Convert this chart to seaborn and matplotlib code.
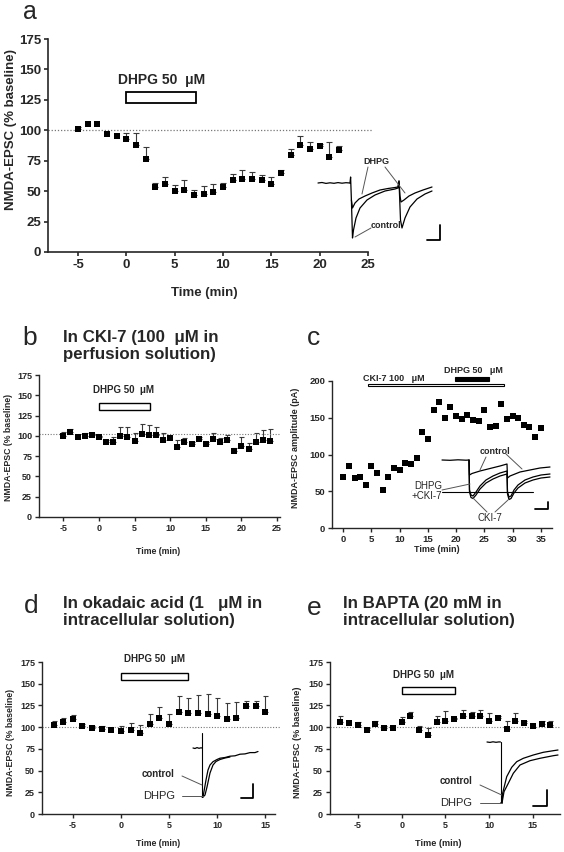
import numpy as np
import matplotlib
matplotlib.use("Agg")
from matplotlib import pyplot as plt
from matplotlib.patches import Rectangle
import seaborn as sns

# ---- data ----
# a: DHPG alone (% baseline), upper end of error bar in *_top
a_time = np.arange(-5, 23)
a_val = [101, 105, 105, 97, 95, 93, 88, 76, 53, 56, 50, 51, 47, 48, 49, 53, 59, 60,
         60, 59, 56, 65, 80, 88, 85, 87, 78, 84]
a_top = [103, 105, 105, 97, 95, 98, 98, 86, 57, 62, 55, 59, 51, 54, 56, 57, 64, 67,
         66, 63, 62, 67, 85, 95, 90, 89, 90, 87]

# b: in CKI-7
b_time = np.arange(-5, 25)
b_val = [100, 105, 98, 100, 101, 98, 92, 92, 100, 98, 94, 102, 101, 101, 95, 97, 86, 93,
         90, 96, 90, 96, 93, 95, 81, 88, 84, 92, 95, 94]
b_top = [105, 109, 98, 103, 102, 100, 95, 99, 111, 111, 103, 115, 113, 111, 104, 97, 95, 97,
         93, 98, 93, 104, 97, 101, 85, 99, 91, 103, 107, 108]

# c: single cell, amplitude (pA)
c_time = np.arange(0, 36)
c_val = [69, 85, 68, 69, 58, 85, 75, 52, 69, 82, 79, 89, 87, 95, 130, 121, 160, 171,
         150, 164, 152, 148, 154, 147, 145, 160, 138, 139, 169, 148, 152, 150, 140, 138, 124, 136]

# d: okadaic acid
d_time = np.arange(-7, 16)
d_val = [102, 106, 109, 101, 99, 98, 97, 95.5, 97, 93.5, 103.5, 110, 103.5, 117, 116, 116,
         115, 113, 109.5, 111, 124.5, 124, 118]
d_top = [106.5, 110, 114, 104, 101, 101.5, 97, 101.5, 104.5, 102, 115.5, 123.5, 115, 135.5,
         134, 137.5, 138.5, 134, 127.5, 129, 130, 130, 136]

# e: BAPTA
e_time = np.arange(-7, 18)
e_val = [106, 105.3, 102.7, 97, 104, 98.5, 98.5, 105.7, 113, 96.6, 91.3, 106, 107.6, 109,
         113.3, 113, 113, 107, 110, 97.7, 107, 104.5, 101.5, 103.8, 102.7]
e_top = [113.3, 105.3, 105.7, 99, 107.6, 101.5, 98.5, 111.8, 117.5, 101.5, 99, 113.3, 119, 111,
         119.4, 118, 120, 116, 113.3, 107.6, 116, 107.6, 101.5, 106.5, 107.6]

# drug application bars (start, end, low, high)
a_dhpg = [0, 7.2, 122.6, 131.4]
b_dhpg = [0, 7.2, 132, 141]
c_cki = [4.4, 28.5, 193, 196.5]
c_dhpg = [19.8, 25.9, 200, 206]
d_dhpg = [0, 7, 154.7, 162.3]
e_dhpg = [0, 6.1, 137.6, 146.4]

# example traces (inset units)
a_base_x = [3, 7, 11, 15, 19, 23, 27, 31, 35]
a_base_y = [33, 32.5, 33.4, 32.8, 33.3, 32.6, 33.2, 32.7, 33]
a_dhpg_x = [35, 35.6, 36.4, 37.5, 40, 44, 50, 57, 65, 73, 80, 83, 84, 85, 86, 89, 94, 100, 108, 117]
a_dhpg_y = [33, 27, 50, 58, 53, 49, 46, 43, 40, 38.5, 37.5, 37, 31, 46, 52, 50, 46, 43, 40, 37]
a_ctrl_x = [36.4, 37.5, 38.5, 41, 45, 52, 60, 70, 80, 83, 84, 85.5, 87, 90, 95, 102, 110, 117]
a_ctrl_y = [50, 88, 80, 68, 58, 50, 45, 41, 39, 38, 31, 70, 78, 68, 57, 49, 44, 41]

c_ctrl_x = [42, 50, 58, 66, 69, 69.5, 72, 80, 90, 100, 107, 107.5, 110, 120, 130, 140, 150]
c_ctrl_y = [20, 20.3, 19.8, 20.2, 20, 35, 33.5, 31, 28.5, 26, 24, 38, 36, 32, 30, 28, 27]
c_cki_x = [69, 69.5, 71, 73, 76, 80, 86, 93, 100, 107, 107.5, 109, 111, 114, 118, 125, 133, 141, 150]
c_cki_y = [20, 50, 55, 56, 52, 46, 40, 36, 33, 31, 52, 57, 56, 50, 45, 40, 37, 35, 34]
c_dc_y = [20, 52, 57.5, 58.5, 55, 49, 43, 39, 36, 34, 54, 59.5, 58.5, 53, 48, 43, 40, 38, 37]

d_base_x = [53, 55, 57, 59, 61, 62]
d_base_y = [23, 23.5, 22.6, 23.3, 22.8, 23]
d_ctrl_x = [62, 63, 66, 68, 70, 73, 77, 80, 85, 90, 95, 100, 105, 110, 115, 118]
d_ctrl_y = [72, 72, 55, 45, 40, 36.7, 34.5, 33.2, 32.5, 31.2, 30.8, 29.2, 28.9, 27.6, 27.6, 26.5]
d_dhpg_x = [63, 65, 67, 70, 73, 76, 80, 85, 90]
d_dhpg_y = [72, 70, 62, 48, 40, 36.5, 34.5, 33, 32]

e_base_x = [57, 60, 63, 66, 69, 70.5]
e_base_y = [12, 12.4, 11.8, 12.3, 11.9, 12]
e_ctrl_x = [70.5, 72, 72.7, 76.7, 81.7, 86.7, 93.3, 103.3, 113.3, 123.3, 128]
e_ctrl_y = [73, 73, 63, 46.7, 37.3, 31.7, 28.3, 25, 22.3, 20.7, 20]
e_dhpg_x = [72, 74, 78.3, 83.3, 90, 100, 110, 123.3, 128]
e_dhpg_y = [73, 61.7, 53.3, 43.3, 35, 30.7, 28.3, 25.7, 25]

W, H = 564, 852

sns.set_style("ticks")
plt.rcParams["font.family"] = ["Liberation Sans", "DejaVu Sans"]
plt.rcParams["axes.unicode_minus"] = False

fig = plt.figure(figsize=(W / 100, H / 100), dpi=100)


def box(l, t, r, b):
    return [l / W, 1 - b / H, (r - l) / W, (b - t) / H]


def series(ax, t, val, top, msize, cap):
    val = np.asarray(val, float)
    t = np.asarray(t, float)
    if top is not None:
        top = np.asarray(top, float)
        m = top > val
        ax.errorbar(t[m], val[m], yerr=[np.zeros(m.sum()), (top - val)[m]], fmt="none",
                    ecolor="#3a3a3a", elinewidth=0.8, capsize=cap, capthick=0.8, zorder=2)
    sns.scatterplot(x=t, y=val, marker="s", color="black", s=msize, linewidth=0,
                    ax=ax, zorder=3, legend=False)


def style(ax, xlim, ylim, xticks, yticks, fs, lw=1.0):
    ax.set_xlim(xlim)
    ax.set_ylim(ylim)
    ax.set_xticks(xticks)
    ax.set_yticks(yticks)
    sns.despine(ax=ax)
    for s in ("left", "bottom"):
        ax.spines[s].set_linewidth(lw)
    ax.tick_params(length=3, width=lw, labelsize=fs, pad=2)
    for lab in ax.get_xticklabels() + ax.get_yticklabels():
        lab.set_fontweight("bold")
    ax.patch.set_alpha(0)


def labels(ax, xl, yl, xpos, ypos, fs):
    ax.set_xlabel(xl, fontsize=fs, fontweight="bold")
    ax.set_ylabel(yl, fontsize=fs, fontweight="bold")
    ax.xaxis.label.set_va("center")
    ax.yaxis.label.set_va("center")
    inv = ax.transAxes.inverted()
    px = inv.transform((xpos[0], H - xpos[1]))
    py = inv.transform((ypos[0], H - ypos[1]))
    ax.xaxis.set_label_coords(px[0], px[1])
    ax.yaxis.set_label_coords(py[0], py[1])


def drug_bar(ax, spec, fill, lw):
    ax.add_patch(Rectangle((spec[0], spec[2]), spec[1] - spec[0], spec[3] - spec[2],
                           facecolor="black" if fill else "white", edgecolor="black",
                           lw=lw, clip_on=False, zorder=4))


def inset(l, t, r, b):
    ax = fig.add_axes(box(l, t, r, b))
    ax.set_xlim(0, r - l)
    ax.set_ylim(b - t, 0)
    ax.axis("off")
    return ax


def pointer(ax, p0, p1):
    ax.plot([p0[0], p1[0]], [p0[1], p1[1]], color="#555555", lw=0.7)


def scalebar(ax, x0, x1, y0, y1):
    ax.plot([x0, x1, x1], [y1, y1, y0], color="black", lw=1.3)


ylab = "NMDA-EPSC (% baseline)"

# ---------- a ----------
ax = fig.add_axes(box(48, 39, 368, 252))
series(ax, a_time, a_val, a_top, 25, 2.5)
style(ax, (-8.1, 25), (0, 175), range(-5, 26, 5), range(0, 176, 25), 9.5, 1.2)
ax.axhline(100, xmin=0, xmax=1.015, color="#777777", ls=(0, (1, 1.5)), lw=0.9, clip_on=False)
drug_bar(ax, a_dhpg, False, 1.3)
ax.text(3.6, 141, "DHPG 50  \u03bcM", ha="center", va="center", fontsize=10, fontweight="bold")
labels(ax, "Time (min)", ylab, (204, 293), (11, 130), 9.5)
fig.text(30 / W, 1 - 19 / H, "a", fontsize=18, ha="center", va="baseline")

ia = inset(315, 150, 445, 245)
ia.plot(a_base_x, a_base_y, color="black", lw=0.9)
ia.plot(a_dhpg_x, a_dhpg_y, color="black", lw=0.9)
ia.plot(a_ctrl_x, a_ctrl_y, color="black", lw=0.9)
ia.text(48, 12, "DHPG", fontsize=6.5, fontweight="bold", va="center")
pointer(ia, (53, 17), (47, 44))
pointer(ia, (70, 17), (90, 43))
ia.text(56, 76, "control", fontsize=6.5, fontweight="bold", va="center")
pointer(ia, (56, 78), (40, 87))
scalebar(ia, 112, 125, 75, 90)

# ---------- b ----------
ax = fig.add_axes(box(39, 375, 280, 517))
series(ax, b_time, b_val, b_top, 14, 1.8)
style(ax, (-8.4, 25.4), (0, 175), range(-5, 26, 5), range(0, 176, 25), 6.5)
ax.axhline(102, xmin=0, xmax=1.0, color="#777777", ls=(0, (1, 1.5)), lw=0.8)
drug_bar(ax, b_dhpg, False, 1.0)
ax.text(3.5, 156, "DHPG 50  \u03bcM", ha="center", va="center", fontsize=7, fontweight="bold")
labels(ax, "Time (min)", ylab, (158, 552), (9, 447), 6.3)
fig.text(30 / W, 1 - 345 / H, "b", fontsize=19, ha="center", va="baseline")
fig.text(63 / W, 1 - 330 / H, "In CKI-7 (100  \u03bcM in\nperfusion solution)", fontsize=12.2,
         fontweight="bold", va="top", linespacing=1.2)

# ---------- c ----------
ax = fig.add_axes(box(332, 381, 552, 528))
series(ax, c_time, c_val, None, 14, 0)
style(ax, (-2, 37), (0, 200), range(0, 36, 5), range(0, 201, 50), 6.8)
drug_bar(ax, c_cki, False, 0.8)
drug_bar(ax, c_dhpg, True, 0.8)
ax.text(8.9, 203, "CKI-7 100   \u03bcM", ha="center", va="center", fontsize=6.5, fontweight="bold")
ax.text(23.1, 214, "DHPG 50   \u03bcM", ha="center", va="center", fontsize=6.5, fontweight="bold")
labels(ax, "Time (min)", "NMDA-EPSC amplitude (pA)", (437, 550), (296, 448), 6.5)
fig.text(314 / W, 1 - 345 / H, "c", fontsize=19, ha="center", va="baseline")

ic = inset(400, 440, 560, 525)
ic.plot([42, 133], [52, 52], color="black", lw=0.8)
ic.plot(c_ctrl_x, c_ctrl_y, color="black", lw=0.9)
ic.plot(c_cki_x, c_cki_y, color="black", lw=0.9)
ic.plot(c_cki_x, c_dc_y, color="black", lw=0.9)
ic.text(80, 12, "control", fontsize=6.5, fontweight="bold", va="center")
pointer(ic, (86, 17), (80, 30))
pointer(ic, (106, 14), (122, 29))
ic.text(42, 51, "DHPG\n+CKI-7", fontsize=7, ha="right", va="center", linespacing=1.1)
pointer(ic, (42, 50), (70, 44))
ic.text(77, 78, "CKI-7", fontsize=7, va="center")
pointer(ic, (87, 72), (73, 58))
pointer(ic, (95, 72), (108, 60))
scalebar(ic, 135, 148, 62, 69)

# ---------- d ----------
ax = fig.add_axes(box(42, 662, 275, 814))
series(ax, d_time, d_val, d_top, 14, 1.8)
style(ax, (-8.2, 16), (0, 175), range(-5, 16, 5), range(0, 176, 25), 6.5)
ax.axhline(100, xmin=0, xmax=1.02, color="#777777", ls=(0, (1, 1.5)), lw=0.8, clip_on=False)
drug_bar(ax, d_dhpg, False, 1.0)
ax.text(3.5, 178, "DHPG 50  \u03bcM", ha="center", va="center", fontsize=7, fontweight="bold")
labels(ax, "Time (min)", ylab, (158, 843), (11, 742), 6.3)
fig.text(31 / W, 1 - 613 / H, "d", fontsize=19, ha="center", va="baseline")
fig.text(63 / W, 1 - 596 / H, "In okadaic acid (1   \u03bcM in\nintracellular solution)",
         fontsize=12.2, fontweight="bold", va="top", linespacing=1.2)

idd = inset(140, 725, 280, 805)
idd.plot(d_base_x, d_base_y, color="black", lw=0.9)
idd.plot([62, 62], [8, 72], color="black", lw=0.8)
idd.plot(d_ctrl_x, d_ctrl_y, color="black", lw=0.9)
idd.plot(d_dhpg_x, d_dhpg_y, color="black", lw=0.9)
idd.text(35, 49, "control", fontsize=7, fontweight="bold", ha="right", va="center")
pointer(idd, (42, 51), (62, 60))
idd.text(35, 71, "DHPG", fontsize=8, ha="right", va="center")
pointer(idd, (42, 71), (63, 71))
scalebar(idd, 101, 113, 59, 73)

# ---------- e ----------
ax = fig.add_axes(box(330, 662, 560, 814))
series(ax, e_time, e_val, e_top, 14, 1.8)
style(ax, (-8.2, 18.1), (0, 175), range(-5, 16, 5), range(0, 176, 25), 6.5)
ax.axhline(100, xmin=0, xmax=1.0, color="#777777", ls=(0, (1, 1.5)), lw=0.8)
drug_bar(ax, e_dhpg, False, 1.0)
ax.text(2.5, 160, "DHPG 50  \u03bcM", ha="center", va="center", fontsize=7, fontweight="bold")
labels(ax, "Time (min)", ylab, (438, 843), (297, 742), 6.6)
fig.text(314 / W, 1 - 615 / H, "e", fontsize=19, ha="center", va="baseline")
fig.text(343 / W, 1 - 596 / H, "In BAPTA (20 mM in\nintracellular solution)",
         fontsize=12.2, fontweight="bold", va="top", linespacing=1.2)

ie = inset(430, 730, 565, 810)
ie.plot(e_base_x, e_base_y, color="black", lw=0.9)
ie.plot([70.5, 70.5], [12, 73], color="black", lw=0.8)
ie.plot(e_ctrl_x, e_ctrl_y, color="black", lw=0.9)
ie.plot(e_dhpg_x, e_dhpg_y, color="black", lw=0.9)
ie.text(42, 50.7, "control", fontsize=7, fontweight="bold", ha="right", va="center")
pointer(ie, (50, 55), (71.7, 65))
ie.text(42, 73, "DHPG", fontsize=8, ha="right", va="center")
pointer(ie, (50, 73), (71.7, 73))
scalebar(ie, 103, 116.7, 60, 76)

fig.savefig("out.png", dpi=100)
